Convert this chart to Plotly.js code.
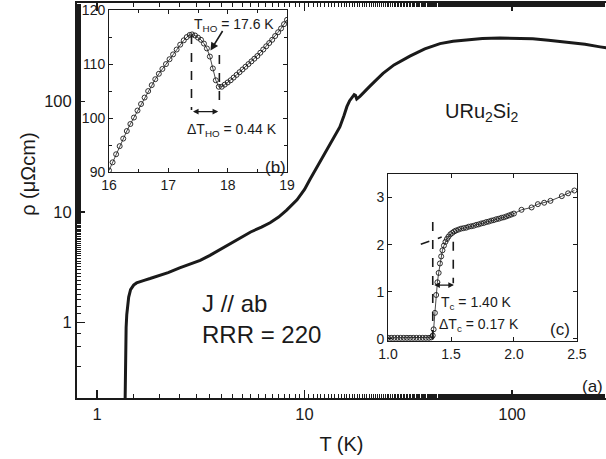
<!DOCTYPE html>
<html>
<head>
<meta charset="utf-8">
<script src="https://cdn.plot.ly/plotly-3.0.1.min.js"></script>
<style>html,body{margin:0;padding:0;background:#fff;}#chart{width:606px;height:459px;}</style>
</head>
<body>
<div id="chart"></div>
<script>
// ---- main curve (a): rho(T), log-log ----
const T_main = [1.30,1.355,1.365,1.37,1.38,1.39,1.40,1.42,1.45,1.50,1.55,1.60,1.70,1.80,2.0,2.2,2.5,2.8,3.14,3.5,3.91,4.37,5.0,5.5,6.2,6.82,7.5,8.2,9.2,10.0,10.6,11.5,12.8,13.8,14.8,15.5,16.0,16.5,17.0,17.35,17.6,17.85,18.5,19.0,20.5,22.0,23.9,27.0,32.2,38.0,45.0,52.0,60.7,72.0,87.5,105,126,150,184,225,266,290];
const rho_main = [0.01,0.05,0.2,0.5,0.9,1.18,1.38,1.7,1.98,2.18,2.28,2.34,2.42,2.5,2.66,2.83,3.12,3.4,3.65,4.05,4.55,5.2,5.95,6.6,7.3,8.0,9.0,10.4,12.9,16.0,19.6,25.5,36.6,47,59,75,90,102,110.7,115.5,113.8,105.8,111.7,118.2,136,155,180,215,258,300,335,352,363,372,376,375,370,360,347,330,313,305];

// ---- inset (b): hidden-order transition ----
const T_b = [16.00,16.06,16.12,16.18,16.24,16.30,16.36,16.42,16.48,16.54,16.60,16.66,16.72,16.78,16.84,16.90,16.96,17.02,17.08,17.14,17.20,17.26,17.31,17.36,17.40,17.45,17.50,17.55,17.60,17.65,17.70,17.75,17.80,17.85,17.90,17.95,18.00,18.05,18.10,18.15,18.20,18.25,18.30,18.35,18.40,18.45,18.50,18.55,18.60,18.65,18.70,18.75,18.80,18.85,18.90,18.95,19.00];
const rho_b = [90.3,91.8,93.3,94.8,96.2,97.6,98.9,100.1,101.4,102.6,103.8,105.0,106.1,107.2,108.2,109.1,110.0,110.9,111.8,112.7,113.6,114.4,115.0,115.4,115.5,115.3,114.9,114.5,113.8,112.9,111.4,109.2,107.0,105.8,105.8,106.2,106.6,107.0,107.5,108.0,108.5,109.0,109.5,110.0,110.5,111.0,111.5,112.1,112.7,113.3,113.9,114.5,115.2,115.9,116.6,117.4,118.2];

// ---- inset (c): superconducting transition ----
const T_c = [1.00,1.025,1.05,1.075,1.10,1.125,1.15,1.175,1.20,1.225,1.25,1.275,1.30,1.325,1.345,1.355,1.362,1.372,1.382,1.392,1.402,1.412,1.422,1.432,1.444,1.456,1.468,1.48,1.495,1.51,1.525,1.54,1.56,1.58,1.60,1.62,1.64,1.66,1.68,1.70,1.72,1.74,1.76,1.78,1.80,1.82,1.84,1.86,1.88,1.90,1.92,1.94,1.96,1.98,2.00,2.06,2.14,2.19,2.24,2.29,2.38,2.43,2.48];
const rho_c = [0.02,0.02,0.02,0.02,0.02,0.02,0.02,0.02,0.02,0.02,0.02,0.02,0.02,0.02,0.03,0.07,0.2,0.55,0.93,1.2,1.4,1.6,1.75,1.88,1.98,2.06,2.12,2.17,2.22,2.25,2.28,2.30,2.32,2.34,2.35,2.36,2.38,2.39,2.40,2.42,2.43,2.45,2.46,2.48,2.49,2.51,2.52,2.54,2.55,2.57,2.58,2.60,2.62,2.64,2.66,2.74,2.79,2.86,2.89,2.93,3.03,3.09,3.15];

// tick labels
const mainTicks = [1,10,100];
const mainTickText = ['1','10','100'];
const bXTicks = [16,17,18,19];
const bYTicks = [90,100,110,120];
const cXTicks = [1.0,1.5,2.0,2.5];
const cXTickText = ['1.0','1.5','2.0','2.5'];
const cYTicks = [0,1,2,3];

const FONT = 'Liberation Sans, Arial, Helvetica, sans-serif';
const INK = '#1a1a1a';

const traces = [
  {x:T_main, y:rho_main, type:'scatter', mode:'lines', xaxis:'x', yaxis:'y',
   line:{color:INK, width:3}, showlegend:false, hoverinfo:'skip'},
  {x:T_b, y:rho_b, type:'scatter', mode:'lines+markers', xaxis:'x2', yaxis:'y2',
   line:{color:INK, width:0.8}, marker:{symbol:'circle-open', size:5, color:INK, line:{width:0.9}},
   showlegend:false, hoverinfo:'skip', cliponaxis:true},
  {x:T_c, y:rho_c, type:'scatter', mode:'lines+markers', xaxis:'x3', yaxis:'y3',
   line:{color:INK, width:0.8}, marker:{symbol:'circle-open', size:5, color:INK, line:{width:0.9}},
   showlegend:false, hoverinfo:'skip', cliponaxis:true}
];

function insetAxis(extra){
  return Object.assign({showgrid:false, zeroline:false, ticks:'inside', ticklen:4, tickwidth:1,
    tickcolor:INK, linecolor:INK, linewidth:1, mirror:'ticks', showline:true,
    tickfont:{family:FONT, size:14, color:INK}}, extra);
}

const dashLine = {color:INK, width:1.6, dash:'dash'};

const layout = {
  width:606, height:459,
  margin:{l:77, r:0, t:3, b:61, pad:0},
  paper_bgcolor:'#fff', plot_bgcolor:'rgba(0,0,0,0)',
  font:{family:FONT, color:INK},
  showlegend:false,
  xaxis:{type:'log', range:[Math.log10(0.8), Math.log10(284)], tickvals:mainTicks, ticktext:mainTickText,
    ticks:'inside', ticklen:8, tickwidth:1.5, tickcolor:INK, showline:true, linecolor:INK, linewidth:2,
    mirror:'ticks', showgrid:false, zeroline:false,
    minor:{ticks:'inside', ticklen:4, tickwidth:1, tickcolor:INK, showgrid:false},
    tickfont:{family:FONT, size:16.5, color:INK},
    title:{text:'T (K)', font:{family:FONT, size:20, color:INK}, standoff:15}},
  yaxis:{type:'log', range:[Math.log10(0.207), 2.893], tickvals:mainTicks, ticktext:mainTickText,
    ticks:'inside', ticklen:8, tickwidth:1.5, tickcolor:INK, showline:true, linecolor:INK, linewidth:2,
    mirror:false, showgrid:false, zeroline:false,
    minor:{ticks:'inside', ticklen:4, tickwidth:1, tickcolor:INK, showgrid:false},
    tickfont:{family:FONT, size:16.5, color:INK}},
  xaxis2:insetAxis({domain:[0.0605,0.397], anchor:'y2', range:[16,19], tickvals:bXTicks,
    minor:{dtick:0.5, tick0:16, ticks:'inside', ticklen:3, tickcolor:INK, showgrid:false}}),
  yaxis2:insetAxis({domain:[0.572,0.982], anchor:'x2', range:[90,120], tickvals:bYTicks,
    minor:{dtick:5, tick0:90, ticks:'inside', ticklen:3, tickcolor:INK, showgrid:false}}),
  xaxis3:insetAxis({domain:[0.588,0.945], anchor:'y3', range:[1.0,2.5], tickvals:cXTicks, ticktext:cXTickText}),
  yaxis3:insetAxis({domain:[0.144,0.567], anchor:'x3', range:[-0.05,3.5], tickvals:cYTicks}),
  shapes:[
    // inset b dashed guides
    {type:'line', xref:'x2', yref:'y2', x0:17.39, x1:17.39, y0:115.4, y1:101.5, line:dashLine},
    {type:'line', xref:'x2', yref:'y2', x0:17.86, x1:17.86, y0:111.7, y1:102.7, line:dashLine},
    // inset c dashed guides
    {type:'line', xref:'x3', yref:'y3', x0:1.355, x1:1.355, y0:2.48, y1:-0.02, line:dashLine},
    {type:'line', xref:'x3', yref:'y3', x0:1.518, x1:1.518, y0:2.06, y1:1.18, line:dashLine},
    {type:'line', xref:'x3', yref:'y3', x0:1.26, x1:1.426, y0:2.01, y1:2.16, line:dashLine}
  ],
  annotations:[
    {xref:'paper', yref:'paper', x:-0.0926, y:0.565, text:'ρ (μΩcm)', textangle:-90, showarrow:false,
     font:{family:FONT, size:20, color:INK}, xanchor:'center', yanchor:'middle'},
    {xref:'paper', yref:'paper', x:0.7656, y:0.724, text:'URu<sub>2</sub>Si<sub>2</sub>', showarrow:false,
     font:{family:FONT, size:20, color:INK}, xanchor:'center', yanchor:'middle'},
    {xref:'paper', yref:'paper', x:0.2325, y:0.2405, text:'J // ab', showarrow:false,
     font:{family:FONT, size:24, color:INK}, xanchor:'left', yanchor:'middle'},
    {xref:'paper', yref:'paper', x:0.2325, y:0.1595, text:'RRR = 220', showarrow:false,
     font:{family:FONT, size:24, color:INK}, xanchor:'left', yanchor:'middle'},
    {xref:'paper', yref:'paper', x:0.998, y:0.03, text:'(a)', showarrow:false,
     font:{family:FONT, size:17, color:INK}, xanchor:'right', yanchor:'middle'},
    // inset b texts
    {xref:'x2', yref:'y2', x:18.107, y:117.3, text:'T<sub>HO</sub> = 17.6 K', showarrow:false,
     font:{family:FONT, size:14, color:INK}, xanchor:'center', yanchor:'middle'},
    {xref:'x2', yref:'y2', x:18.07, y:97.8, text:'ΔT<sub>HO</sub> = 0.44 K', showarrow:false,
     font:{family:FONT, size:14, color:INK}, xanchor:'center', yanchor:'middle'},
    {xref:'x2', yref:'y2', x:18.81, y:90.8, text:'(b)', showarrow:false,
     font:{family:FONT, size:17, color:INK}, xanchor:'center', yanchor:'middle'},
    {xref:'x2', yref:'y2', axref:'x2', ayref:'y2', x:17.71, y:112.5, ax:17.93, ay:116.4, text:'',
     showarrow:true, arrowhead:2, arrowsize:1, arrowwidth:1.6, arrowcolor:INK},
    {xref:'x2', yref:'y2', axref:'x2', ayref:'y2', x:17.84, y:101.2, ax:17.39, ay:101.2, text:'',
     showarrow:true, arrowhead:2, startarrowhead:2, arrowside:'end+start', arrowsize:0.8, arrowwidth:1.4, arrowcolor:INK},
    // inset c texts
    {xref:'x3', yref:'y3', x:1.704, y:0.76, text:'T<sub>c</sub> = 1.40 K', showarrow:false,
     font:{family:FONT, size:14, color:INK}, xanchor:'center', yanchor:'middle'},
    {xref:'x3', yref:'y3', x:1.722, y:0.30, text:'ΔT<sub>c</sub> = 0.17 K', showarrow:false,
     font:{family:FONT, size:14, color:INK}, xanchor:'center', yanchor:'middle'},
    {xref:'x3', yref:'y3', x:2.365, y:0.19, text:'(c)', showarrow:false,
     font:{family:FONT, size:17, color:INK}, xanchor:'center', yanchor:'middle'},
    {xref:'x3', yref:'y3', axref:'x3', ayref:'y3', x:1.523, y:1.14, ax:1.355, ay:1.14, text:'',
     showarrow:true, arrowhead:2, startarrowhead:2, arrowside:'end+start', arrowsize:0.8, arrowwidth:1.4, arrowcolor:INK}
  ]
};

Plotly.newPlot('chart', traces, layout, {staticPlot:true, displayModeBar:false});
</script>
</body>
</html>
